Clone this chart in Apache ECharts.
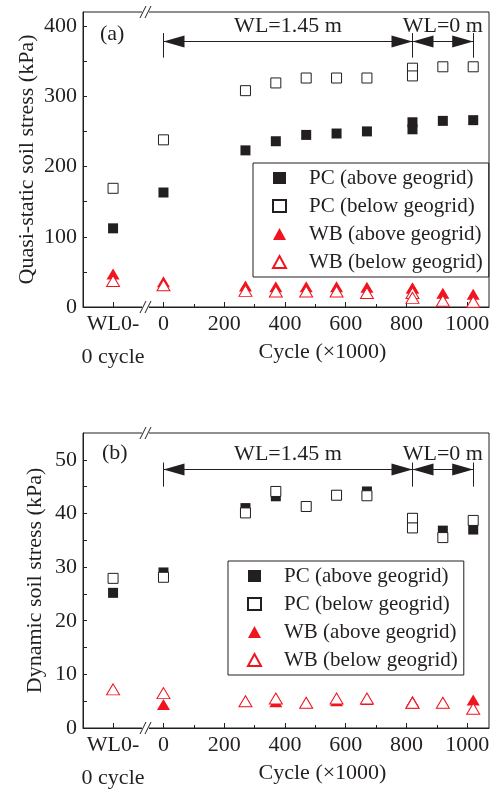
<!DOCTYPE html>
<html>
<head>
<meta charset="utf-8">
<script src="https://cdn.jsdelivr.net/npm/echarts@6/dist/echarts.min.js"></script>
<style>
html, body { margin: 0; padding: 0; background: #fff; }
#chart { width: 492px; height: 792px; }
</style>
</head>
<body>
<div id="chart"></div>
<script>
// x position -166 stands for the "WL0-0 cycle" reading left of the axis break
var cycles = [-166, 0, 270, 370, 470, 570, 670, 820, 820, 920, 1020];
var xLabelValues = [-166, 0, 200, 400, 600, 800, 1000];
var xMajorTicks = [-166, 0, 200, 400, 600, 800, 1000];
var xMinorTicks = [100, 300, 500, 700, 900];

var names = ['PC (above geogrid)', 'PC (below geogrid)', 'WB (above geogrid)', 'WB (below geogrid)'];

// (a) quasi-static soil stress, kPa
var qsLabels = [0, 100, 200, 300, 400];
var qsTicks = [0, 50, 100, 150, 200, 250, 300, 350, 400];
var qsPcAbove = [112, 163, 223, 236, 245, 247, 250, 263, 253, 265, 266];
var qsPcBelow = [169, 238, 308, 319, 326, 326, 326, 340, 329, 342, 342];
var qsWbAbove = [47, 36, 30, 29, 29, 29, 28, 27, 27, 19.5, 18];
var qsWbBelow = [37, 31, 23, 22, 22, 22, 20, 20, 13, 9, 7.5];

// (b) dynamic soil stress, kPa
var dyLabels = [0, 10, 20, 30, 40, 50];
var dyTicks = [0, 5, 10, 15, 20, 25, 30, 35, 40, 45, 50];
var dyPcAbove = [25.2, 29, 41.0, 43.2, 41.3, 43.4, 44.1, 39.1, 37.3, 36.8, 37.0];
var dyPcBelow = [27.9, 28.1, 40.1, 44.1, 41.3, 43.4, 43.3, 39.1, 37.3, 35.5, 38.7];
var dyWbAbove = [7.2, 4.4, 5.0, 4.9, 4.7, 5.1, 5.3, 4.9, 4.9, 4.7, 5.2];
var dyWbBelow = [7.2, 6.5, 5.0, 5.5, 4.7, 5.5, 5.5, 4.7, 4.7, 4.7, 3.6];

// water level phases: [start cycle, end cycle, label]
var phases = [[0, 820, 'WL=1.45 m'], [820, 1020, 'WL=0 m']];

var ink = '#231f20';
var red = '#f0141e';
var font = 'Liberation Serif';

function pairs(vals) {
    return cycles.map(function (c, i) { return [c, vals[i]]; });
}

function xAxes(g) {
    return [{
        type: 'value', gridIndex: g, min: -265, max: 1072,
        name: 'Cycle (×1000)', nameLocation: 'middle', nameGap: 34, nameMoveOverlap: false,
        nameTextStyle: { fontFamily: font, fontSize: 22, color: ink, padding: [0, 0, 0, 73] },
        axisLine: { onZero: false, lineStyle: { color: ink, width: 1 } },
        axisTick: { inside: true, length: 5, customValues: xMajorTicks, lineStyle: { color: ink } },
        axisLabel: {
            customValues: xLabelValues, margin: 1, lineHeight: 33,
            fontFamily: font, fontSize: 22, color: ink,
            formatter: function (v) { return v < 0 ? 'WL0-\n0 cycle' : String(v); }
        },
        splitLine: { show: false }
    }, {
        // minor ticks only
        type: 'value', gridIndex: g, min: -265, max: 1072, position: 'bottom',
        axisLine: { show: false, onZero: false },
        axisTick: { inside: true, length: 3, customValues: xMinorTicks, lineStyle: { color: ink } },
        axisLabel: { show: false },
        splitLine: { show: false }
    }];
}

function yAxis(g, max, labels, ticks, name, gap) {
    return {
        type: 'value', gridIndex: g, min: 0, max: max,
        name: name, nameLocation: 'middle', nameGap: gap, nameMoveOverlap: false,
        nameTextStyle: { fontFamily: font, fontSize: 22, color: ink },
        axisLine: { show: true, onZero: false, lineStyle: { color: ink, width: 1 } },
        axisTick: { inside: true, length: 4, customValues: ticks, lineStyle: { color: ink } },
        axisLabel: { customValues: labels, margin: 6, fontFamily: font, fontSize: 22, color: ink },
        splitLine: { show: false }
    };
}

function wlMarks(yLine, yTop, yBot) {
    var data = [];
    phases.forEach(function (p) {
        data.push([
            { coord: [p[0], yLine], name: p[2] },
            { coord: [p[1], yLine] }
        ]);
    });
    [0, 820, 1020].forEach(function (c) {
        data.push([
            { coord: [c, yTop], symbol: 'none', name: '' },
            { coord: [c, yBot], symbol: 'none' }
        ]);
    });
    return {
        silent: true,
        animation: false,
        symbol: ['triangle', 'triangle'],
        symbolSize: [12, 21],
        symbolOffset: [[0, 10.5], [0, 10.5]],
        lineStyle: { color: ink, width: 1, type: 'solid' },
        itemStyle: { color: ink },
        label: {
            show: true, position: 'middle', formatter: '{b}', distance: 4,
            fontFamily: font, fontSize: 22, color: ink
        },
        emphasis: { disabled: true },
        data: data
    };
}

function series(g, pcA, pcB, wbA, wbB, marks) {
    var xi = g * 2;
    return [{
        name: names[0], type: 'scatter', xAxisIndex: xi, yAxisIndex: g,
        symbol: 'rect', symbolSize: 10,
        itemStyle: { color: ink, opacity: 1 },
        data: pairs(pcA), markLine: marks, z: 3
    }, {
        name: names[1], type: 'scatter', xAxisIndex: xi, yAxisIndex: g,
        symbol: 'rect', symbolSize: 10,
        itemStyle: { color: '#fff', borderColor: ink, borderWidth: 1, opacity: 1 },
        data: pairs(pcB), z: 4
    }, {
        name: names[2], type: 'scatter', xAxisIndex: xi, yAxisIndex: g,
        symbol: 'triangle', symbolSize: [13, 11],
        itemStyle: { color: red, opacity: 1 },
        data: pairs(wbA), z: 3
    }, {
        name: names[3], type: 'scatter', xAxisIndex: xi, yAxisIndex: g,
        symbol: 'triangle', symbolSize: [13, 11],
        itemStyle: { color: '#fff', borderColor: red, borderWidth: 1, opacity: 1 },
        data: pairs(wbB), z: 4
    }];
}

function legend(left, top) {
    return {
        orient: 'vertical', left: left, top: top,
        data: names, selectedMode: false,
        itemWidth: 13, itemHeight: 12, itemGap: 6,
        padding: [4, 6, 4, 19],
        borderColor: ink, borderWidth: 1,
        textStyle: { fontFamily: font, fontSize: 21, color: ink, lineHeight: 22, padding: [0, 0, 0, 18] }
    };
}

function breakMark(x, y) {
    return [
        { type: 'rect', shape: { x: x - 3, y: y - 2, width: 7, height: 4 }, style: { fill: '#fff' }, z: 100 },
        { type: 'line', shape: { x1: x - 5, y1: y + 6, x2: x + 1, y2: y - 6 }, style: { stroke: ink, lineWidth: 1 }, z: 101 },
        { type: 'line', shape: { x1: x, y1: y + 6, x2: x + 6, y2: y - 6 }, style: { stroke: ink, lineWidth: 1 }, z: 101 }
    ];
}

var chart = echarts.init(document.getElementById('chart'));

var option = {
    animation: false,
    backgroundColor: '#fff',
    grid: [
        { left: 83, right: 3, top: 12, height: 295, show: true, borderColor: ink, borderWidth: 1, outerBoundsMode: 'none' },
        { left: 83, right: 3, top: 433, height: 295, show: true, borderColor: ink, borderWidth: 1, outerBoundsMode: 'none' }
    ],
    xAxis: xAxes(0).concat(xAxes(1)),
    yAxis: [
        yAxis(0, 420, qsLabels, qsTicks, 'Quasi-static soil stress (kPa)', 45),
        yAxis(1, 55, dyLabels, dyTicks, 'Dynamic soil stress (kPa)', 37)
    ],
    legend: [legend(253, 163), legend(228, 561)],
    series: series(0, qsPcAbove, qsPcBelow, qsWbAbove, qsWbBelow, wlMarks(378, 390, 355))
        .concat(series(1, dyPcAbove, dyPcBelow, dyWbAbove, dyWbBelow, wlMarks(48.2, 49.5, 45.0))),
    graphic: [
        { type: 'text', left: 100, top: 23, style: { text: '(a)', font: '22px "Liberation Serif"', fill: ink } },
        { type: 'text', left: 102, top: 442, style: { text: '(b)', font: '22px "Liberation Serif"', fill: ink } }
    ].concat(breakMark(145, 12), breakMark(145, 307), breakMark(145, 433), breakMark(145, 728))
};

chart.setOption(option);
</script>
</body>
</html>
